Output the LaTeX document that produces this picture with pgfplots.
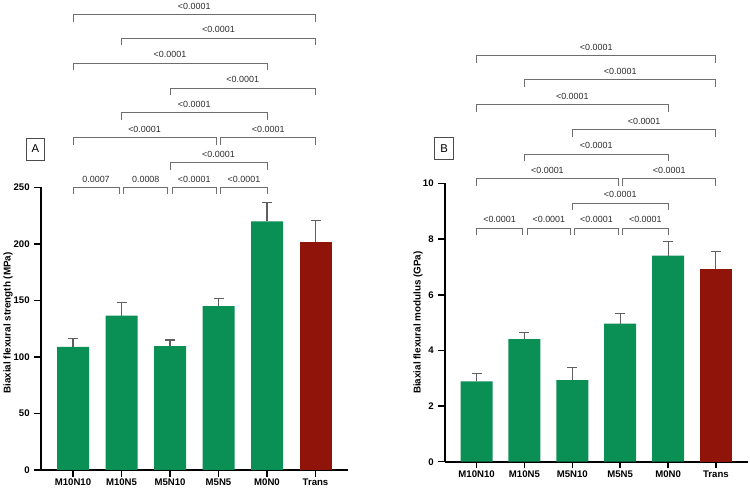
\documentclass[border=0pt]{standalone}
\usepackage{fontspec}
\setmainfont{Liberation Sans}
\usepackage{pgfplots}
\pgfplotsset{compat=1.18}
\usepackage{pgfplotstable}
\definecolor{gbar}{RGB}{10,143,85}
\definecolor{rbar}{RGB}{145,20,10}
\definecolor{brk}{RGB}{110,110,110}
\definecolor{errc}{RGB}{95,95,95}
\definecolor{lab}{RGB}{45,45,45}

\pgfplotstableread{
x y e
0 109 7.5
1 136.5 12
2 109.5 5.5
3 145 7
4 220 17
}\dataAg
\pgfplotstableread{
x y e
5 202 19
}\dataAr
\pgfplotstableread{
x y e
0 2.89 0.27
1 4.41 0.24
2 2.93 0.47
3 4.96 0.38
4 7.41 0.49
}\dataBg
\pgfplotstableread{
x y e
5 6.92 0.63
}\dataBr

% #1 x1, #2 x2, #3 level, #4 label x, #5 label
\newcommand{\brkt}[5]{%
  \draw[brk, line width=0.75pt] ([yshift=-5.25pt]axis cs:#1,#3) -- (axis cs:#1,#3) -- (axis cs:#2,#3) -- ([yshift=-5.25pt]axis cs:#2,#3);
  \node[font=\fontsize{6.7}{7}\selectfont, text=lab, inner sep=0pt, anchor=center] at ([yshift=6.4pt]axis cs:#4,#3) {#5};
}

\pgfplotsset{
  panel/.style={
    scale only axis, clip=false,
    axis lines*=left,
    axis line style={-, line width=1.5pt, black},
    tick align=outside, major tick length=5pt,
    tick style={line width=1.2pt, black},
    xtick={0,...,5}, xticklabels={M10N10,M10N5,M5N10,M5N5,M0N0,Trans},
    xmin=-0.66, xmax=5.67, ymin=0,
    ticklabel style={font=\fontsize{7.2}{8}\selectfont\bfseries},
    xticklabel style={yshift=1.8pt},
    /pgf/number format/assume math mode=true,
    ylabel style={font=\fontsize{7.4}{9}\selectfont\bfseries, anchor=center},
  },
  barg/.style={ybar, bar width=24pt, bar shift=0pt, fill=gbar, draw=none,
    error bars/.cd, y dir=plus, y explicit,
    error bar style={line width=0.8pt, errc},
    error mark options={rotate=90, mark size=3.75pt, line width=0.8pt, errc}},
  barr/.style={ybar, bar width=24pt, bar shift=0pt, fill=rbar, draw=none,
    error bars/.cd, y dir=plus, y explicit,
    error bar style={line width=0.8pt, errc},
    error mark options={rotate=90, mark size=3.75pt, line width=0.8pt, errc}},
}

\begin{document}
\begin{tikzpicture}
\useasboundingbox (-30.75pt,-13.5pt) rectangle (531.75pt,352.5pt);

\begin{axis}[panel, at={(0pt,0pt)}, anchor=south west,
  width=230.25pt, height=211.9pt, ymax=250, ytick={0,50,...,250},
  ylabel={Biaxial flexural strength (MPa)},
  ylabel style={at={(axis description cs:-0.1075,0.52)}}]
\addplot[barg] table[x=x, y=y, y error=e]{\dataAg};
\addplot[barr] table[x=x, y=y, y error=e]{\dataAr};
\brkt{0}{0.95}{250}{0.475}{0.0007}
\brkt{1.05}{1.95}{250}{1.5}{0.0008}
\brkt{2.05}{2.95}{250}{2.5}{<0.0001}
\brkt{3.05}{4}{250}{3.525}{<0.0001}
\brkt{2}{4}{272}{3}{<0.0001}
\brkt{0}{2.95}{294}{1.475}{<0.0001}
\brkt{3.05}{5}{294}{4.025}{<0.0001}
\brkt{1}{4}{316}{2.5}{<0.0001}
\brkt{2}{5}{338}{3.5}{<0.0001}
\brkt{0}{4}{360}{2}{<0.0001}
\brkt{1}{5}{382}{3}{<0.0001}
\brkt{0}{5}{403}{2.5}{<0.0001}
\node[draw=black!70, line width=0.6pt, minimum width=14pt, minimum height=16.5pt, inner sep=0pt, font=\fontsize{8.5}{9}\selectfont] at (axis cs:-0.773,284) {A};
\end{axis}

\begin{axis}[panel, at={(303pt,6.225pt)}, anchor=south west,
  width=227.25pt, height=208.65pt, ymax=10, ytick={0,2,...,10},
  ylabel={Biaxial flexural modulus (GPa)},
  ylabel style={at={(axis description cs:-0.089,0.5)}}]
\addplot[barg] table[x=x, y=y, y error=e]{\dataBg};
\addplot[barr] table[x=x, y=y, y error=e]{\dataBr};
\brkt{0}{0.96}{8.40}{0.48}{<0.0001}
\brkt{1.06}{1.96}{8.40}{1.51}{<0.0001}
\brkt{2.05}{2.96}{8.40}{2.505}{<0.0001}
\brkt{3.05}{4}{8.40}{3.525}{<0.0001}
\brkt{2}{4}{9.29}{3}{<0.0001}
\brkt{0}{2.96}{10.17}{1.48}{<0.0001}
\brkt{3.05}{5}{10.17}{4.025}{<0.0001}
\brkt{1}{4}{11.06}{2.5}{<0.0001}
\brkt{2}{5}{11.93}{3.5}{<0.0001}
\brkt{0}{4}{12.83}{2}{<0.0001}
\brkt{1}{5}{13.73}{3}{<0.0001}
\brkt{0}{5}{14.59}{2.5}{<0.0001}
\node[draw=black!70, line width=0.6pt, minimum width=14pt, minimum height=16.5pt, inner sep=0pt, font=\fontsize{8.5}{9}\selectfont] at (axis cs:-0.68,11.25) {B};
\end{axis}
\end{tikzpicture}
\end{document}
